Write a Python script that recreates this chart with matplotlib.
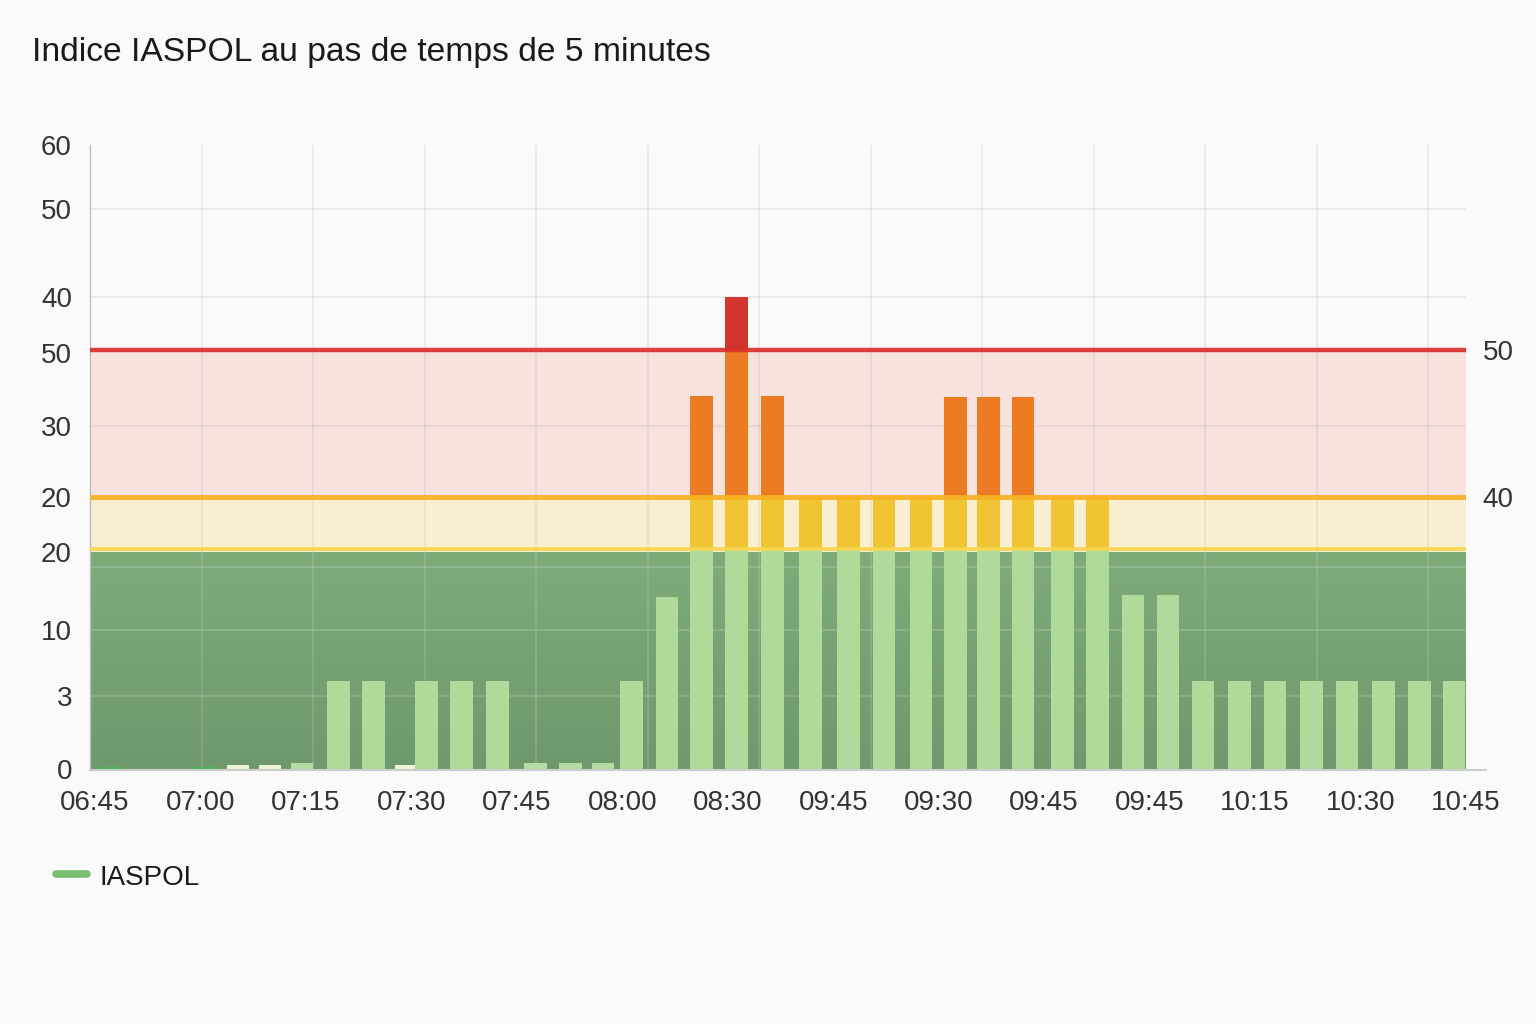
import numpy as np
import matplotlib
matplotlib.use("Agg")
import matplotlib.pyplot as plt
from matplotlib.lines import Line2D
from matplotlib.colors import LinearSegmentedColormap

plt.rcParams['font.family'] = ['Liberation Sans', 'DejaVu Sans']

# ---------------- data ----------------
title = "Indice IASPOL au pas de temps de 5 minutes"
series_name = "IASPOL"

# bar times, minutes after 06:45
bar_minutes = [2.8, 15.5, 19.9, 24.2, 28.5, 33.4, 38.1, 42.5, 45.3, 50.0,
               54.8, 59.9, 64.6, 69.0, 72.8, 77.6, 82.3, 87.0, 91.8, 96.9,
               102.0, 106.8, 111.8, 116.4, 120.9, 125.5, 130.8, 135.5, 140.3,
               145.0, 149.7, 154.6, 159.4, 164.3, 169.1, 174.0, 178.8, 183.5]
# bar heights (in chart units)
bar_values = [0.2, 0.2, 0.4, 0.4, 0.6, 8.46, 8.46, 0.35, 8.46, 8.46,
              8.46, 0.6, 0.6, 0.6, 8.46, 16.54, 35.87, 45.38, 35.87, 26.2,
              26.2, 26.2, 26.2, 35.8, 35.8, 35.8, 26.2, 26.2, 16.7,
              16.7, 8.46, 8.46, 8.46, 8.46, 8.46, 8.46, 8.46, 8.46]

x_labels = ["06:45", "07:00", "07:15", "07:30", "07:45", "08:00", "08:30",
            "09:45", "09:30", "09:45", "09:45", "10:15", "10:30", "10:45"]

y_tick_values = [0, 7.02, 13.37, 20.87, 26.15, 32.98, 40.0, 45.38, 53.85, 60]
y_tick_labels = ["0", "3", "10", "20", "20", "30", "50", "40", "50", "60"]

# threshold levels (chart units)
green_top = 20.9
yellow_level = 21.15
orange_level = 26.15
red_level = 40.29
right_tick_values = [red_level, orange_level]
right_tick_labels = ["50", "40"]

# ---------------- figure ----------------
W, H = 1536, 1024
fig = plt.figure(figsize=(W / 100, H / 100), dpi=100)
fig.patch.set_facecolor('#FAFAFA')

ax_l, ax_r, ax_b, ax_t = 90, 1466, 769, 145
ax = fig.add_axes([ax_l / W, 1 - ax_b / H, (ax_r - ax_l) / W, (ax_b - ax_t) / H])
ax.set_facecolor('#FAFAFA')

xmax = 185.1
ymax = 60

# zones
grad = LinearSegmentedColormap.from_list('g', ['#6E996D', '#7EAC79'])
ax.imshow(np.linspace(0, 1, 100).reshape(-1, 1), cmap=grad, origin='lower',
          extent=[0, xmax, 0, green_top], aspect='auto', zorder=0)
ax.axhspan(green_top, orange_level, color='#F9EECF', lw=0, zorder=0)
ax.axhspan(orange_level, red_level, color='#F8E2DD', lw=0, zorder=0)

# gridlines
grid_y = [53.85, 45.38, 32.98, 19.4, 13.37, 7.02]
for gy in grid_y:
    if gy < green_top:
        ax.axhline(gy, color='white', alpha=0.18, lw=1.2, zorder=1)
    else:
        ax.axhline(gy, color='#888888', alpha=0.15, lw=1.2, zorder=1)
grid_x = np.arange(15, 181, 15)
ax.vlines(grid_x, 0, green_top, color='white', alpha=0.15, lw=1.2, zorder=1)
ax.vlines(grid_x, green_top, ymax, color='#888888', alpha=0.15, lw=1.2, zorder=1)

# bars, coloured by zone
bw = 3.05
x = np.array(bar_minutes)
v = np.array(bar_values)
tiny_col = np.where(v < 0.25, '#4FB556', np.where(v < 0.5, '#EEF3D8', '#B4DCA0'))
big = v >= 1
ax.bar(x[~big], v[~big], width=bw, color=tiny_col[~big], zorder=2, lw=0)
seg_bounds = [(0, yellow_level, '#AFDA9A'),
              (yellow_level, orange_level, '#F0C433'),
              (orange_level, red_level, '#EC7B23'),
              (red_level, 100, '#D2352D')]
for lo, hi, col in seg_bounds:
    top = np.clip(v[big], lo, hi)
    h = top - lo
    ax.bar(x[big], h, bottom=lo, width=bw, color=col, zorder=2, lw=0)

# threshold lines
ax.axhline(red_level, color='#D9302A', lw=3.2, alpha=0.92, zorder=3)
ax.axhline(orange_level, color='#F6B222', lw=3.6, alpha=0.92, zorder=3)
ax.axhline(yellow_level, color='#F7D64E', lw=2.8, alpha=0.9, zorder=3)

ax.set_xlim(0, xmax)
ax.set_ylim(0, ymax)

# ticks
ax.set_yticks(y_tick_values)
ax.set_yticklabels(y_tick_labels)
ax.tick_params(axis='y', length=0, pad=13, labelsize=20, labelcolor='#333333')
label_pos = np.linspace(0.67, xmax, len(x_labels))
ax.set_xticks(label_pos)
ax.set_xticklabels(x_labels)
ax.tick_params(axis='x', length=0, pad=15, labelsize=20, labelcolor='#333333')

for s in ['top', 'right', 'bottom']:
    ax.spines[s].set_visible(False)
ax.spines['left'].set_color('#BDBDBD')
ax.spines['left'].set_linewidth(1.0)

# right axis
ax2 = ax.twinx()
ax2.set_ylim(0, ymax)
ax2.set_yticks(right_tick_values)
ax2.set_yticklabels(right_tick_labels)
ax2.tick_params(axis='y', length=0, pad=12, labelsize=20, labelcolor='#333333')
for s in ax2.spines.values():
    s.set_visible(False)

# bottom axis line extending beyond plot
fig.add_artist(Line2D([ax_l / W, 1486 / W], [1 - 770 / H, 1 - 770 / H],
                      color='#CCCCCC', lw=1.5))

# title
fig.text(32 / W, 1 - 52 / H, title, fontsize=24.2, color='#1A1A1A',
         va='center', ha='left')

# legend
fig.add_artist(Line2D([56 / W, 87 / W], [1 - 874 / H, 1 - 874 / H],
                      color='#79BE71', lw=5.5, solid_capstyle='round'))
fig.text(100 / W, 1 - 878 / H, series_name, fontsize=20, color='#1A1A1A',
         va='center', ha='left')

fig.savefig('out.png', dpi=100, facecolor=fig.get_facecolor())
